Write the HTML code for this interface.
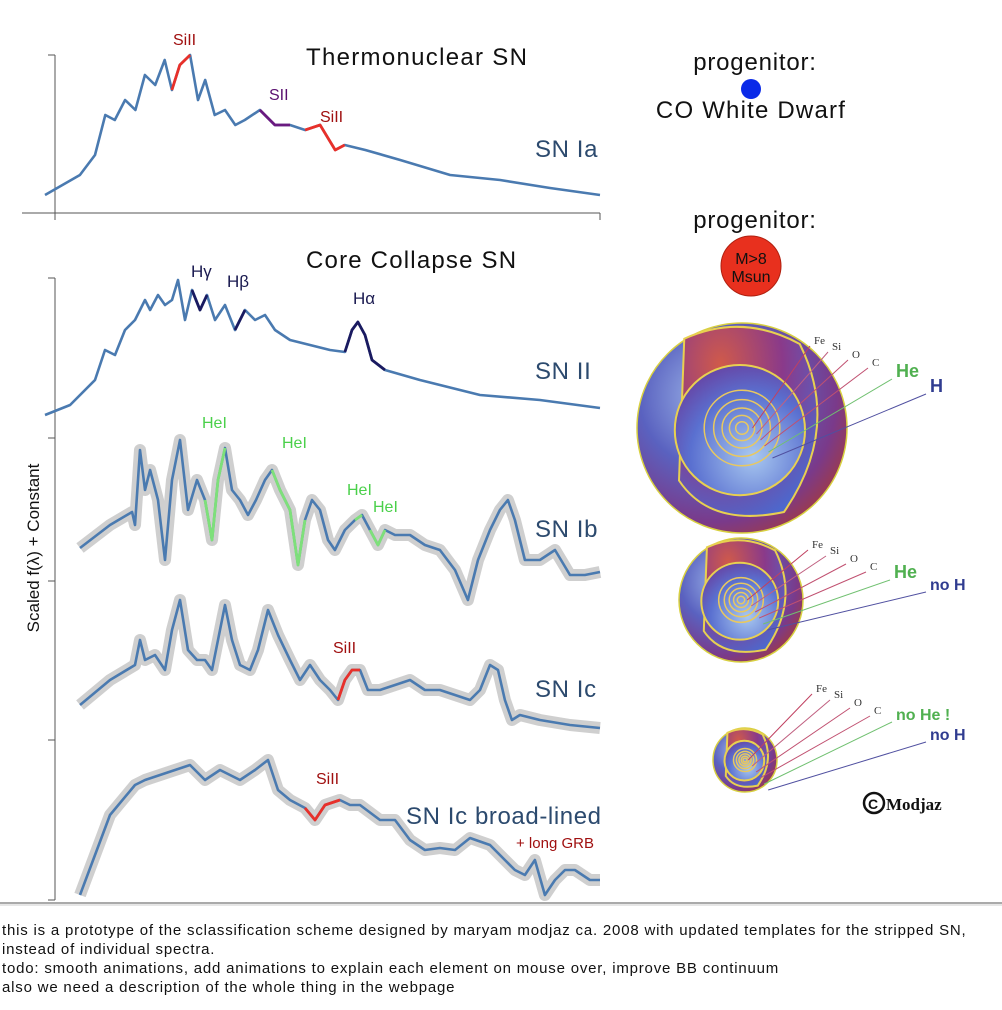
<!DOCTYPE html>
<html><head><meta charset="utf-8">
<style>
html,body{margin:0;padding:0;background:#fff;width:1002px;height:1010px;overflow:hidden}
svg{position:absolute;left:0;top:0}
#notes{position:absolute;left:2px;top:921px;width:1000px;font-family:"Liberation Sans",sans-serif;font-size:15px;letter-spacing:0.8px;line-height:19px;color:#111}
</style></head>
<body>
<svg id="chart" width="1002" height="1010" font-family="Liberation Sans, sans-serif">
<defs>
<radialGradient id="gStar" cx="0.35" cy="0.35" r="0.75">
<stop offset="0" stop-color="#9fb8ea"/><stop offset="0.45" stop-color="#5a62c0"/><stop offset="0.8" stop-color="#7a3a8a"/><stop offset="1" stop-color="#a33a40"/></radialGradient>
<radialGradient id="gCut" cx="0.3" cy="0.2" r="0.9">
<stop offset="0" stop-color="#d05a4a"/><stop offset="0.5" stop-color="#8a3a8a"/><stop offset="1" stop-color="#4a6ad0"/></radialGradient>
<radialGradient id="gIn" cx="0.6" cy="0.7" r="0.8">
<stop offset="0" stop-color="#a8c8f0"/><stop offset="0.6" stop-color="#5a70d0"/><stop offset="1" stop-color="#6a3a9a"/></radialGradient>
</defs>
<g id="axes"></g>
<g id="spectra"></g>
<g id="globes"></g>
<g id="labels"></g>
</svg>
<div id="notes">this is a prototype of the sclassification scheme designed by maryam modjaz ca. 2008 with updated templates for the stripped SN, instead of individual spectra.<br>todo: smooth animations, add animations to explain each element on mouse over, improve BB continuum<br>also we need a description of the whole thing in the webpage</div>
<script>
// wavelengths (Angstrom) and scaled flux values per spectrum
const waveIa=[3000,3440,3630,3760,3880,4010,4140,4260,4390,4510,4600,4700,4830,4930,5020,5140,5270,5400,5520,5710,5900,6090,6280,6470,6660,6780,7040,7480,8110,8740,9370,10000];
const fluxIa=[18,38,58,98,93,113,103,138,128,153,123,148,158,113,133,98,103,88,93,103,88,88,83,88,63,68,63,53,38,33,25,18];
const waveII=[3000,3316,3631,3757,3883,4009,4135,4261,4325,4425,4514,4602,4678,4766,4854,4955,5043,5144,5270,5396,5522,5649,5775,5901,6090,6342,6594,6783,6872,6947,7036,7124,7288,7729,8486,9242,10000];
const fluxII=[485,495,520,550,545,570,580,600,590,605,595,600,620,580,610,590,605,580,595,570,590,580,585,570,560,555,550,548,570,578,565,540,530,520,505,500,492];
const waveIb=[3442,3820,4098,4135,4198,4261,4325,4425,4514,4602,4703,4804,4917,5018,5106,5182,5270,5359,5459,5560,5661,5775,5863,5964,6090,6191,6279,6367,6468,6569,6657,6783,6910,6998,7099,7200,7288,7414,7603,7792,7981,8171,8334,8461,8612,8738,8839,8927,9053,9242,9432,9621,9810,10000];
const fluxIb=[352,375,388,375,450,410,430,400,340,420,460,390,420,400,360,420,452,410,400,385,400,420,430,410,390,335,380,400,390,360,350,370,380,385,370,355,370,365,365,355,350,330,300,340,370,390,400,380,340,340,350,325,325,328];
const waveIc=[3442,3820,4135,4198,4261,4388,4514,4602,4703,4804,4917,5018,5106,5182,5270,5359,5459,5585,5686,5812,5939,6090,6216,6342,6468,6594,6695,6783,6872,6973,7073,7225,7414,7603,7792,7981,8171,8360,8486,8612,8713,8801,8889,8990,9242,9621,10000];
const fluxIc=[195,220,235,260,240,245,230,270,300,250,240,240,230,260,295,260,235,230,250,290,265,240,220,235,220,210,200,220,230,230,210,210,215,220,210,210,205,200,210,235,230,200,180,185,180,175,172];
const waveIcbl=[3442,3820,4135,4261,4451,4640,4829,5018,5207,5459,5649,5812,5939,6090,6279,6405,6531,6720,6847,6973,7225,7414,7603,7792,7981,8171,8360,8612,8801,8927,9053,9179,9305,9432,9558,9684,9873,10000];
const fluxIcbl=[5,85,115,120,125,130,135,120,130,120,130,140,110,100,92,80,95,100,95,95,80,80,60,50,52,50,62,55,40,30,25,40,5,20,30,30,20,20];
const specNames=["SN II","SN Ib","SN Ic","SN Ic broad-lined"];
const yTicksBottom=[0,160,319,462,622];

const NS="http://www.w3.org/2000/svg";
function mk(tag,attrs,parent){const e=document.createElementNS(NS,tag);for(const k in attrs)e.setAttribute(k,attrs[k]);parent.appendChild(e);return e;}
function x(w){return 45+(w-3000)*555/7000;}
function yTop(v){return 213-v;}
function yBot(v){return 900-v;}
function path(ws,fs,ys,lo,hi){let d="";let started=false;for(let i=0;i<ws.length;i++){if(lo!==undefined&&(ws[i]<lo||ws[i]>hi))continue;d+=(started?"L":"M")+x(ws[i]).toFixed(1)+","+ys(fs[i]).toFixed(1);started=true;}return d;}
const axes=document.getElementById('axes'),spec=document.getElementById('spectra'),glb=document.getElementById('globes'),lab=document.getElementById('labels');

let a=mk('line',{x1:55,y1:55,x2:55,y2:213,stroke:'#555','stroke-width':1},axes);

a=mk('line',{x1:48,y1:55,x2:55,y2:55,stroke:'#555'},axes);

a=mk('line',{x1:22,y1:213,x2:600,y2:213,stroke:'#555'},axes);

[55,600].forEach(t=>{const l=mk('line',{x1:t,y1:213,x2:t,y2:220,stroke:'#555'},axes);
});
a=mk('line',{x1:55,y1:278,x2:55,y2:900,stroke:'#555'},axes);

yTicksBottom.forEach(t=>{const l=mk('line',{x1:48,y1:yBot(t),x2:55,y2:yBot(t),stroke:'#555'},axes);
});
a=mk('line',{x1:0,y1:903,x2:1002,y2:903,stroke:'#777','stroke-width':1.2},axes);

a=mk('line',{x1:0,y1:905,x2:1002,y2:905,stroke:'#ccc','stroke-width':1},axes);


const blue='#4a7ab0';
function drawSpec(name,ws,fs,ys,band){
  if(band){const b=mk('path',{d:path(ws,fs,ys),fill:'none',stroke:'#cfcfcf','stroke-width':12,'stroke-linejoin':'round'},spec);
  }
  const p=mk('path',{d:path(ws,fs,ys),fill:'none',stroke:blue,'stroke-width':2.6,'stroke-linejoin':'round'},spec);
  
}
function hl(name,ws,fs,ys,lo,hi,col){const p=mk('path',{d:path(ws,fs,ys,lo,hi),fill:'none',stroke:col,'stroke-width':2.8,'stroke-linejoin':'round'},spec);
}
drawSpec('sn-ia',waveIa,fluxIa,yTop,false);
hl('siII-line-ia',waveIa,fluxIa,yTop,4600,4840,'#e8302a');
hl('sII-line-ia',waveIa,fluxIa,yTop,5700,6100,'#6a1a80');
hl('siII-6355-ia',waveIa,fluxIa,yTop,6280,6790,'#e8302a');
drawSpec('sn-ii',waveII,fluxII,yBot,false);
hl('h-gamma-line',waveII,fluxII,yBot,4850,5050,'#1a1a60');
hl('h-beta-line',waveII,fluxII,yBot,5390,5530,'#1a1a60');
hl('h-alpha-line',waveII,fluxII,yBot,6780,7300,'#1a1a60');
drawSpec('sn-ib',waveIb,fluxIb,yBot,true);
hl('hei-line-1',waveIb,fluxIb,yBot,5010,5280,'#7ee07a');
hl('hei-line-2',waveIb,fluxIb,yBot,5860,6290,'#7ee07a');
hl('hei-line-3',waveIb,fluxIb,yBot,6900,7000,'#7ee07a');
hl('hei-line-4',waveIb,fluxIb,yBot,7090,7300,'#7ee07a');
drawSpec('sn-ic',waveIc,fluxIc,yBot,true);
hl('siII-line-ic',waveIc,fluxIc,yBot,6690,6980,'#e8302a');
drawSpec('sn-ic-bl',waveIcbl,fluxIcbl,yBot,true);
hl('siII-line-icbl',waveIcbl,fluxIcbl,yBot,6270,6730,'#e8302a');

function txt(s,xx,yy,size,col,name,extra){const t=mk('text',Object.assign({x:xx,y:yy,'font-size':size,fill:col},extra||{}),lab);t.textContent=s;
return t;}
txt('Thermonuclear SN',306,65,24,'#111','top-panel-title',{'letter-spacing':'1.3'});
txt('Core Collapse SN',306,268,24,'#111','bottom-panel-title',{'letter-spacing':'1.2'});
txt('SN Ia',535,157,24,'#2c4a6e','label-sn-ia',{'letter-spacing':'0.6'});
txt('SN II',535,379,24,'#2c4a6e','label-sn-ii',{'letter-spacing':'0.6'});
txt('SN Ib',535,537,24,'#2c4a6e','label-sn-ib',{'letter-spacing':'0.6'});
txt('SN Ic',535,697,24,'#2c4a6e','label-sn-ic',{'letter-spacing':'0.6'});
txt('SN Ic broad-lined',406,824,24,'#2c4a6e','label-sn-ic-bl',{'letter-spacing':'0.6'});
txt('+ long GRB',516,848,15,'#a01010','label-long-grb');
txt('SiII',173,45,16,'#a01010','siII-label-1');
txt('SII',269,100,16,'#5a1070','sII-label');
txt('SiII',320,122,16,'#a01010','siII-label-2');
txt('Hγ',191,277,17,'#1a1a50','h-gamma-label');
txt('Hβ',227,287,17,'#1a1a50','h-beta-label');
txt('Hα',353,304,17,'#1a1a50','h-alpha-label');
txt('HeI',202,428,16,'#4ad04a','hei-label-1');
txt('HeI',282,448,16,'#4ad04a','hei-label-2');
txt('HeI',347,495,16,'#4ad04a','hei-label-3');
txt('HeI',373,512,16,'#4ad04a','hei-label-4');
txt('SiII',333,653,16,'#a01010','siII-label-ic');
txt('SiII',316,784,16,'#a01010','siII-label-icbl');
txt('Scaled f(λ) + Constant',39,548,17,'#111','y-axis-title',{transform:'rotate(-90 39 548)','text-anchor':'middle'});
txt('progenitor:',755,70,24,'#111','progenitor-label-1',{'text-anchor':'middle','letter-spacing':'0.8'});
txt('CO White Dwarf',751,118,24,'#111','progenitor-co-wd',{'text-anchor':'middle','letter-spacing':'1.2'});
txt('progenitor:',755,228,24,'#111','progenitor-label-2',{'text-anchor':'middle','letter-spacing':'0.8'});
let c=mk('circle',{cx:751,cy:89,r:10,fill:'#0a2ae8'},glb);

c=mk('circle',{cx:751,cy:266,r:30,fill:'#e8301e',stroke:'#b02010'},glb);

txt('M>8',751,264,16,'#111','mass-label',{'text-anchor':'middle'});
txt('Msun',751,282,16,'#111','msun-label',{'text-anchor':'middle'});

function globe(name,cx,cy,r,lbls){
  const g=mk('g',{},glb);
  mk('circle',{cx:cx,cy:cy,r:r,fill:'url(#gStar)',stroke:'#d8d040','stroke-width':1.5},g);
  mk('path',{d:`M${cx-r*0.55},${cy-r*0.85} Q${cx},${cy-r*1.1} ${cx+r*0.55},${cy-r*0.8} Q${cx+r*0.95},${cy} ${cx+r*0.4},${cy+r*0.8} Q${cx-r*0.3},${cy+r*0.95} ${cx-r*0.6},${cy+r*0.5} Z`,fill:'url(#gCut)',stroke:'#e8d050','stroke-width':2},g);
  mk('circle',{cx:cx-r*0.02,cy:cy+r*0.02,r:r*0.62,fill:'url(#gIn)',stroke:'#e8d050','stroke-width':2},g);
  [0.36,0.27,0.19,0.12,0.06].forEach(f=>mk('circle',{cx:cx,cy:cy,r:r*f,fill:'none',stroke:'#e8c860','stroke-width':1.5},g));
  const cols=['#c04060','#c06080','#c05070','#c05070','#70c070','#5050a0'];
  lbls.forEach((L,i)=>{mk('line',{x1:cx+r*0.1+i*4,y1:cy+i*6,x2:L[1]-4,y2:L[2]+2,stroke:cols[i],'stroke-width':1},g);
    const t=mk('text',{x:L[1],y:L[2],'font-size':L[3],fill:L[4],'font-family':L[5]||'Liberation Serif, serif','font-weight':L[6]||'normal'},g);t.textContent=L[0];});
}
globe('globe-sn-ii',742,428,105,[['Fe',814,344,11,'#333'],['Si',832,350,11,'#333'],['O',852,358,11,'#333'],['C',872,366,11,'#333'],['He',896,377,18,'#50b050','Liberation Sans, sans-serif','bold'],['H',930,392,18,'#303c90','Liberation Sans, sans-serif','bold']]);
globe('globe-sn-ib',741,600,62,[['Fe',812,548,11,'#333'],['Si',830,554,11,'#333'],['O',850,562,11,'#333'],['C',870,570,11,'#333'],['He',894,578,18,'#50b050','Liberation Sans, sans-serif','bold'],['no H',930,590,16,'#303c90','Liberation Sans, sans-serif','bold']]);
globe('globe-sn-ic',745,760,32,[['Fe',816,692,11,'#333'],['Si',834,698,11,'#333'],['O',854,706,11,'#333'],['C',874,714,11,'#333'],['no He !',896,720,16,'#50b050','Liberation Sans, sans-serif','bold'],['no H',930,740,16,'#303c90','Liberation Sans, sans-serif','bold']]);
c=mk('circle',{cx:874,cy:803,r:10,fill:'none',stroke:'#111','stroke-width':2.5},glb);

txt('C',868,809,14,'#111','copyright-c',{'font-weight':'bold'});
txt('Modjaz',886,810,17,'#111','credit-modjaz',{'font-family':'Liberation Serif, serif','font-weight':'bold'});
</script>
</body></html>
